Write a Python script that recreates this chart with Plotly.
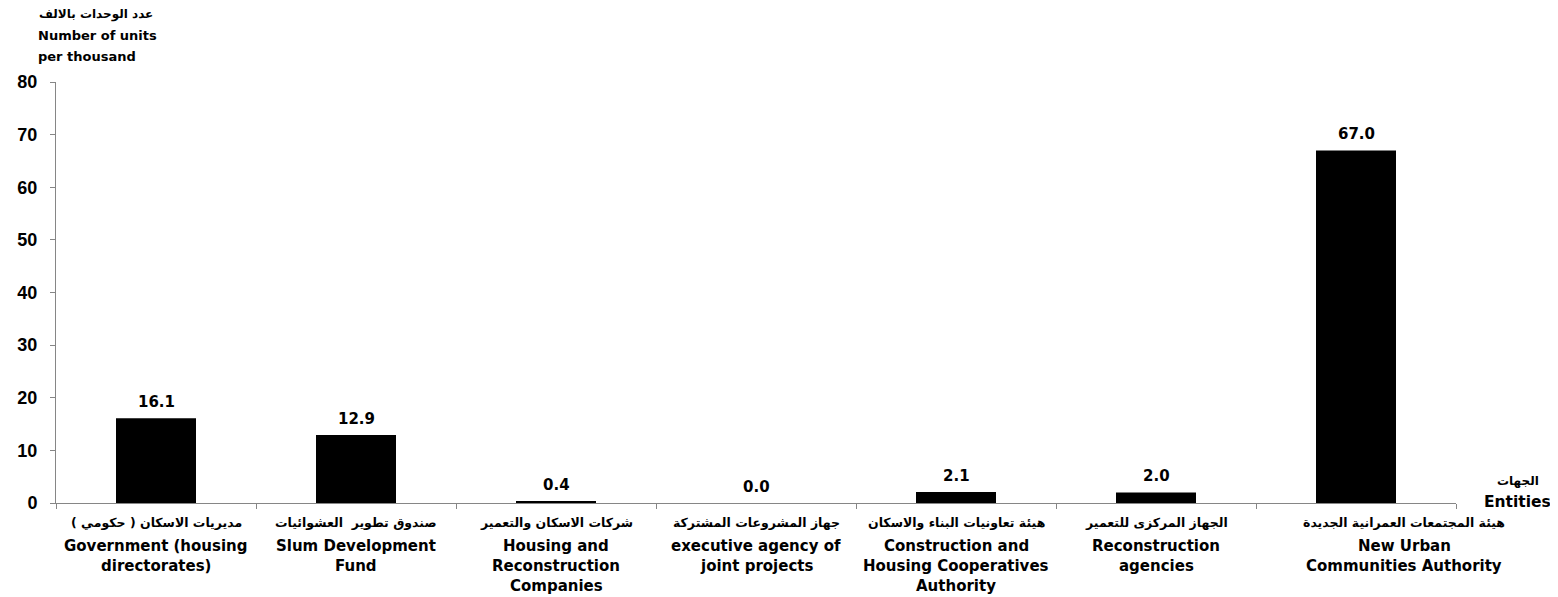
import plotly.graph_objects as go

RLM = "\u200f"

labels_ar = [
    "مديريات الاسكان ( حكومي )",
    "صندوق تطوير  العشوائيات",
    "شركات الاسكان والتعمير",
    "جهاز المشروعات المشتركة",
    "هيئة تعاونيات البناء والاسكان",
    "الجهاز المركزى للتعمير",
    "هيئة المجتمعات العمرانية الجديدة",
]
labels_en = [
    ["Government (housing", "directorates)"],
    ["Slum Development", "Fund"],
    ["Housing and", "Reconstruction", "Companies"],
    ["executive agency of", "joint projects"],
    ["Construction and", "Housing Cooperatives", "Authority"],
    ["Reconstruction", "agencies"],
    ["New Urban", "Communities Authority"],
]
values = [16.1, 12.9, 0.4, 0.0, 2.1, 2.0, 67.0]
y_ticks = [0, 10, 20, 30, 40, 50, 60, 70, 80]

y_title_ar = "عدد الوحدات بالالف"
y_title_en = ["Number of units", "per thousand"]
x_title_ar = "الجهات"
x_title_en = "Entities"

categories = ["c%d" % i for i in range(len(values))]

ARIAL = "Arial, Liberation Sans, DejaVu Sans, sans-serif"
WIDE = "DejaVu Sans, Arial, sans-serif"
GRAY = "#868686"

# The page adds an 8px body margin; the figure is sized so that the
# plot area lands at the same screen position as in the reference.
fig = go.Figure()
fig.add_trace(go.Bar(
    x=categories,
    y=values,
    marker=dict(color="black", line=dict(width=0)),
    width=0.4,
    hoverinfo="skip",
))

fig.update_layout(
    width=1550, height=589,
    margin=dict(l=48, r=102, t=74, b=94, autoexpand=False),
    plot_bgcolor="white", paper_bgcolor="white",
    showlegend=False,
    font=dict(family=ARIAL, color="black"),
    xaxis=dict(
        type="category", automargin=False,
        range=[-0.5, len(categories) - 0.5], autorange=False,
        showline=True, linecolor=GRAY, linewidth=1,
        ticks="outside", tickson="boundaries", ticklen=5, tickcolor=GRAY,
        showticklabels=False,
        showgrid=False, zeroline=False,
    ),
    yaxis=dict(
        range=[0, 80], autorange=False, tickvals=y_ticks, automargin=False,
        showline=True, linecolor=GRAY, linewidth=1,
        ticks="outside", ticklen=5, tickcolor=GRAY,
        ticklabelstandoff=9,
        tickfont=dict(family=ARIAL, size=18, color="black", weight="bold"),
        showgrid=False, zeroline=False,
    ),
)

# value labels above bars
for c, v in zip(categories, values):
    fig.add_annotation(
        x=c, y=v, xref="x", yref="y", text="%.1f" % v,
        showarrow=False, xanchor="center", yanchor="bottom", yshift=5,
        font=dict(family=WIDE, size=15, color="black", weight="bold"),
    )

# category labels under the axis
last = len(categories) - 1
for i, (c, a, en) in enumerate(zip(categories, labels_ar, labels_en)):
    dx = 48 if i == last else 0
    fig.add_annotation(
        x=c, y=0, xref="x", yref="paper", text=a + RLM,
        showarrow=False, xanchor="center", yanchor="middle",
        yshift=-19, xshift=dx,
        font=dict(family=WIDE, size=12.5, color="black", weight="bold"),
    )
    for j, line in enumerate(en):
        fig.add_annotation(
            x=c, y=0, xref="x", yref="paper", text=line,
            showarrow=False, xanchor="center", yanchor="middle",
            yshift=-(43 + 20 * j), xshift=dx,
            font=dict(family=WIDE, size=15, color="black", weight="bold"),
        )

def px_x(px):
    return (px - 56) / 1400.0

def px_y(py):
    return (503 - py) / 421.0

fig.add_annotation(
    x=px_x(155), y=px_y(15), xref="paper", yref="paper",
    text=y_title_ar + RLM, showarrow=False, xanchor="right", yanchor="middle",
    font=dict(family=WIDE, size=12, color="black", weight="bold"),
)
for txt, py in zip(y_title_en, [35, 56]):
    fig.add_annotation(
        x=px_x(36), y=px_y(py), xref="paper", yref="paper",
        text=txt, showarrow=False, xanchor="left", yanchor="middle",
        font=dict(family=WIDE, size=13, color="black", weight="bold"),
    )

fig.add_annotation(
    x=px_x(1518), y=px_y(481), xref="paper", yref="paper",
    text=x_title_ar + RLM, showarrow=False, xanchor="center", yanchor="middle",
    font=dict(family=WIDE, size=12, color="black", weight="bold"),
)
fig.add_annotation(
    x=px_x(1517), y=px_y(502), xref="paper", yref="paper",
    text=x_title_en, showarrow=False, xanchor="center", yanchor="middle",
    font=dict(family=WIDE, size=15.5, color="black", weight="bold"),
)

fig.write_html("out.html")
